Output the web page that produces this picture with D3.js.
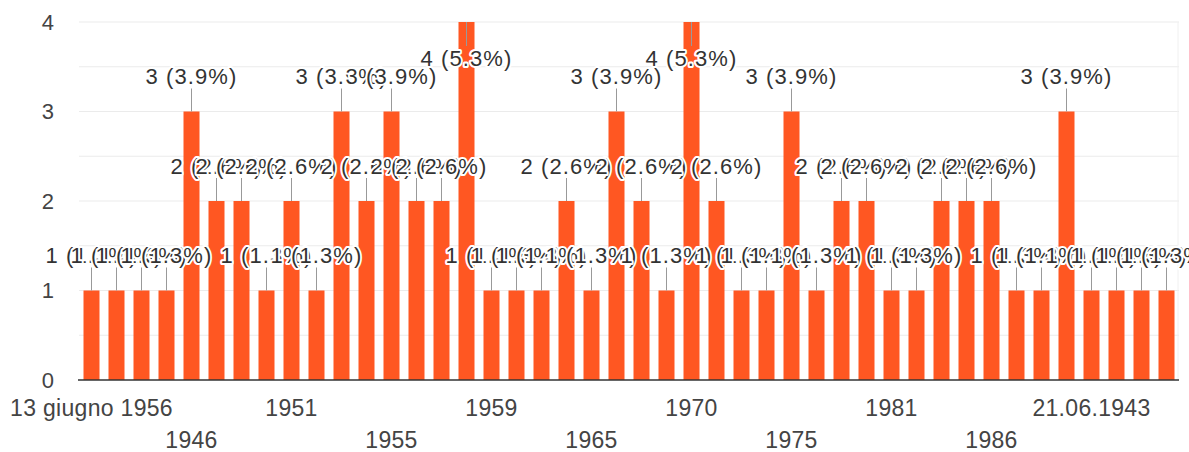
<!DOCTYPE html>
<html>
<head>
<meta charset="utf-8">
<style type="text/css">
body { margin: 0; background: #fff; }
text { font-family: Arial, "Liberation Sans", sans-serif; }
</style>
</head>
<body>
<script src="https://d3js.org/d3.v7.min.js"></script>
<script>
  // responses per answer (one bar each)
  var counts = [1,1,1,1,3,2,2,1,2,1,3,2,3,2,2,4,1,1,1,2,1,3,2,1,4,2,1,1,3,1,2,2,1,1,2,2,2,1,1,3,1,1,1,1];
  // only every 4th category label is shown on the axis
  var tickLabels = ["13 giugno 1956","1946","1951","1955","1959","1965","1970","1975","1981","1986","21.06.1943"];
  var totalResponses = 76;
  var yTicks = [0, 1, 2, 3, 4];
  var gridValues = [0.5, 1, 1.5, 2, 2.5, 3, 3.5, 4];

  // note: "top" is taken by window.top, so plot edges get their own names
  var width = 1189, height = 452;
  var plotLeft = 79, plotRight = 1179, plotTop = 22, plotBottom = 380;

  var svg = d3.select("body").append("svg")
      .attr("width", width)
      .attr("height", height);

  var x = d3.scaleBand()
      .domain(d3.range(counts.length))
      .range([plotLeft, plotRight])
      .paddingInner(0.36)
      .paddingOuter(0.18);

  var y = d3.scaleLinear()
      .domain([0, 4])
      .range([plotBottom, plotTop]);

  // gridlines
  svg.append("g").selectAll("line")
      .data(gridValues)
      .enter().append("line")
      .attr("x1", plotLeft).attr("x2", plotRight)
      .attr("y1", function(d){ return y(d); })
      .attr("y2", function(d){ return y(d); })
      .attr("stroke", "#ebebeb")
      .attr("stroke-width", 1);

  svg.append("line")
      .attr("x1", plotRight - 1).attr("x2", plotRight - 1)
      .attr("y1", plotTop).attr("y2", plotBottom)
      .attr("stroke", "#f0f0f0");

  // bars
  svg.append("g").selectAll("rect")
      .data(counts)
      .enter().append("rect")
      .attr("x", function(d, i){ return x(i); })
      .attr("y", function(d){ return y(d); })
      .attr("width", x.bandwidth())
      .attr("height", function(d){ return y(0) - y(d); })
      .attr("fill", "#ff5722");

  // baseline
  svg.append("line")
      .attr("x1", plotLeft - 1).attr("x2", plotRight)
      .attr("y1", y(0)).attr("y2", y(0))
      .attr("stroke", "#333")
      .attr("stroke-width", 1.5);

  // y axis
  var yAxis = svg.append("g")
      .attr("transform", "translate(" + 54 + ",0)")
      .call(d3.axisLeft(y).tickValues(yTicks).tickSize(0).tickPadding(0).tickFormat(d3.format("d")));
  yAxis.select(".domain").remove();
  yAxis.selectAll("text")
      .attr("font-size", "22px")
      .attr("font-family", "Arial, 'Liberation Sans', sans-serif")
      .attr("fill", "#444");

  // x axis, labels staggered on two rows
  var xAxis = svg.append("g")
      .attr("transform", "translate(0," + y(0) + ")")
      .call(d3.axisBottom(x)
        .tickValues(d3.range(0, counts.length, 4))
        .tickSize(0)
        .tickFormat(function(i){ return tickLabels[i / 4]; }));
  xAxis.select(".domain").remove();
  xAxis.selectAll("text")
      .attr("font-size", "23px")
      .attr("letter-spacing", "0.3px")
      .attr("font-family", "Arial, 'Liberation Sans', sans-serif")
      .attr("fill", "#444")
      .attr("dy", null)
      .attr("y", function(i){ return (i / 4) % 2 == 0 ? 36 : 68; });

  // annotations: stem + "n (p%)" with white halo, later ones over earlier
  var ann = svg.append("g");
  counts.forEach(function(d, i){
    var cx = x(i) + x.bandwidth() / 2;
    var inside = d == 4; // no room above the top bars, label is flipped inside
    var y0 = y(d);
    var y1 = inside ? y0 + 24 : y0 - 23;
    var ty = inside ? y0 + 36 : y0 - 35;

    ann.append("line")
      .attr("x1", cx).attr("x2", cx)
      .attr("y1", y0).attr("y2", y1)
      .attr("stroke", "#999")
      .attr("stroke-width", 1);

    ann.append("text")
      .attr("x", cx)
      .attr("y", ty)
      .attr("dy", "0.36em")
      .attr("text-anchor", "middle")
      .attr("font-size", "22px")
      .attr("letter-spacing", "1.1px")
      .attr("fill", "#333")
      .attr("stroke", "#fff")
      .attr("stroke-width", 4)
      .attr("stroke-linejoin", "round")
      .attr("paint-order", "stroke")
      .text(d + " (" + (d / totalResponses * 100).toFixed(1) + "%)");
  });
</script>
</body>
</html>
